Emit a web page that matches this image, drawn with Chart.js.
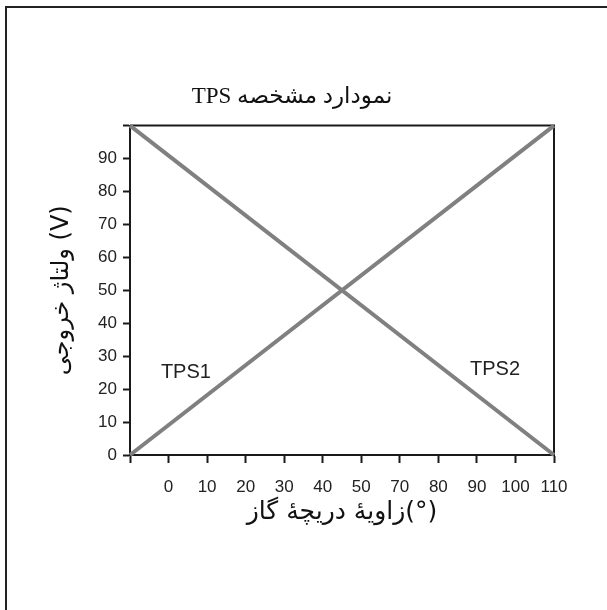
<!DOCTYPE html>
<html>
<head>
<meta charset="utf-8">
<script src="https://cdn.jsdelivr.net/npm/chart.js@4.4.1/dist/chart.umd.min.js"></script>
<style>
  html, body { margin: 0; padding: 0; background: #fff; }
  #wrap { position: relative; width: 607px; height: 610px; overflow: hidden; }
  #frame { position: absolute; left: 5px; top: 6px; width: 800px; height: 800px;
           border-left: 2px solid #222; border-top: 2px solid #222; }
  canvas { position: absolute; left: 0; top: 0; }
</style>
</head>
<body>
<div id="wrap">
  <div id="frame"></div>
  <canvas id="c" width="607" height="610"></canvas>
</div>
<script>
// ---- data ----
const xTickLabels = ['', '0', '10', '20', '30', '40', '50', '70', '80', '90', '100', '110'];
const tps1Values = [0, null, null, null, null, null, null, null, null, null, null, 100];
const tps2Values = [100, null, null, null, null, null, null, null, null, null, null, 0];
const seriesNames = ['TPS1', 'TPS2'];
// annotation anchors (category index, value) for the series names
const nameAnchorX = [1.45, 9.47];
const nameAnchorY = [25.2, 26.1];

const titleText = '\u202Bنمودارد مشخصه TPS\u202C';
const yTitle = 'ولتاژ خروجی (V)';
const xTitle = 'زاویهٔ دریچهٔ گاز(°)';

const LINE = '#808080';
const INK = '#1a1a1a';

const framePlugin = {
  id: 'frame',
  beforeDatasetsDraw(chart) {
    const { ctx, chartArea: a } = chart;
    ctx.save();
    ctx.strokeStyle = INK;
    ctx.lineWidth = 2;
    ctx.beginPath();
    ctx.moveTo(a.left, a.top);
    ctx.lineTo(a.right, a.top);
    ctx.lineTo(a.right, a.bottom);
    ctx.stroke();
    ctx.restore();
  },
  afterDatasetsDraw(chart) {
    const { ctx } = chart;
    const xs = chart.scales.x, ys = chart.scales.y;
    ctx.save();
    ctx.font = '20px "Liberation Sans", Arial, sans-serif';
    ctx.fillStyle = '#222';
    ctx.textAlign = 'center';
    ctx.textBaseline = 'middle';
    seriesNames.forEach((n, i) => {
      ctx.fillText(n, xs.getPixelForValue(nameAnchorX[i]), ys.getPixelForValue(nameAnchorY[i]));
    });
    ctx.restore();
  }
};

new Chart(document.getElementById('c'), {
  type: 'line',
  data: {
    labels: xTickLabels,
    datasets: [
      { label: seriesNames[0], data: tps1Values, borderColor: LINE, borderWidth: 4,
        pointRadius: 0, spanGaps: true, clip: false, tension: 0 },
      { label: seriesNames[1], data: tps2Values, borderColor: LINE, borderWidth: 4,
        pointRadius: 0, spanGaps: true, clip: false, tension: 0 }
    ]
  },
  options: {
    responsive: false,
    animation: false,
    devicePixelRatio: 1,
    layout: { padding: { left: 0, right: 23, top: 0, bottom: 0 } },
    plugins: {
      legend: { display: false },
      tooltip: { enabled: false },
      title: {
        display: true,
        text: titleText,
        color: '#111',
        font: { family: '"Liberation Serif", "DejaVu Sans", serif', size: 23, weight: 'normal', lineHeight: 1.2 },
        padding: { top: 83, bottom: 15 }
      }
    },
    scales: {
      x: {
        type: 'category',
        offset: false,
        grid: { display: true, drawOnChartArea: false, drawTicks: true, tickLength: 8,
                tickColor: INK, tickWidth: 2 },
        border: { display: true, color: INK, width: 2 },
        ticks: { color: '#222', autoSkip: false, maxRotation: 0, minRotation: 0, padding: 14,
                 font: { family: '"Liberation Sans", Arial, sans-serif', size: 17 } },
        title: { display: true, text: xTitle, color: '#111',
                 font: { family: '"DejaVu Sans", sans-serif', size: 25, lineHeight: 1.2 },
                 padding: { top: 0, bottom: 83 } },
        afterFit(s) { s.height = 155; }
      },
      y: {
        type: 'linear',
        min: 0, max: 100,
        grid: { display: true, drawOnChartArea: false, drawTicks: true, tickLength: 7,
                tickColor: INK, tickWidth: 2 },
        border: { display: true, color: INK, width: 2 },
        ticks: { stepSize: 10, color: '#222', padding: 6,
                 font: { family: '"Liberation Sans", Arial, sans-serif', size: 17 },
                 callback: v => (v === 100 ? '' : v) },
        title: { display: true, text: yTitle, color: '#111',
                 font: { family: '"DejaVu Sans", sans-serif', size: 24, lineHeight: 1.2 },
                 padding: { top: 47, bottom: 0 } },
        afterFit(s) { s.width = 130; }
      },
      yPad: {
        type: 'linear',
        position: 'right',
        display: true,
        grid: { display: false },
        border: { display: false },
        ticks: { display: false },
        afterFit(s) { s.width = 30; }
      }
    }
  },
  plugins: [framePlugin]
});
</script>
</body>
</html>
